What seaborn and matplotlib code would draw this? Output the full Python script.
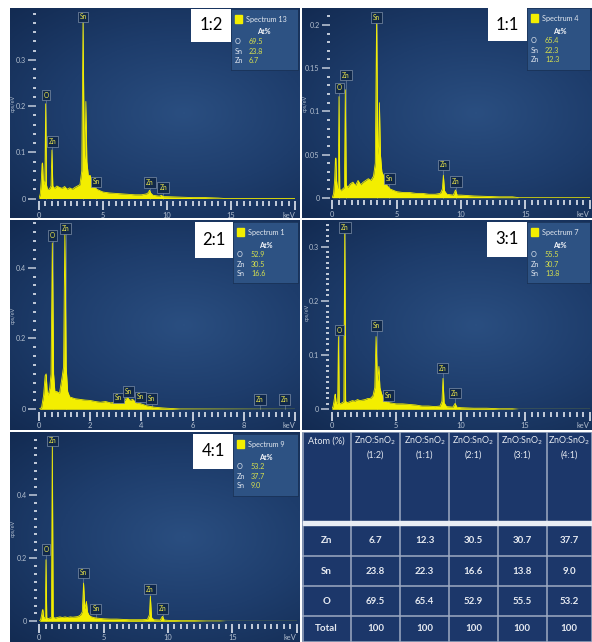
import numpy as np
import matplotlib
matplotlib.use("Agg")
import matplotlib.pyplot as plt
import seaborn as sns
import pandas as pd
from matplotlib.patches import Rectangle
from matplotlib.colors import LinearSegmentedColormap
from matplotlib.ticker import FixedLocator

# ------------------------------------------------------------------ data
# shared energy grid (keV) for spectra 1:2, 1:1, 3:1, 4:1
energy = [0, 0.1, 0.18, 0.24, 0.28, 0.33, 0.40, 0.46, 0.52, 0.58,
          0.66, 0.80, 0.94, 1.01, 1.08, 1.2, 1.4, 1.6, 1.8, 2.0,
          2.2, 2.4, 2.6, 2.8, 3.0, 3.2, 3.34, 3.44, 3.54, 3.60,
          3.66, 3.74, 3.85, 4.0, 4.2, 4.5, 5, 5.5, 6, 6.5,
          7, 7.5, 8, 8.4, 8.55, 8.63, 8.72, 8.9, 9.4, 9.57,
          9.7, 10, 11, 12, 13, 14, 14.5, 20]

cps_1_2 = [0, 0.01, 0.04, 0.075, 0.077, 0.04, 0.03, 0.04, 0.205, 0.03,
           0.02, 0.02, 0.027, 0.105, 0.027, 0.022, 0.027, 0.024, 0.022, 0.026,
           0.02, 0.023, 0.02, 0.024, 0.027, 0.03, 0.06, 0.386, 0.08, 0.10,
           0.21, 0.08, 0.05, 0.05, 0.03, 0.02, 0.014, 0.012, 0.011, 0.01,
           0.009, 0.008, 0.008, 0.01, 0.013, 0.018, 0.012, 0.007, 0.005, 0.007,
           0.004, 0.004, 0.003, 0.002, 0.002, 0.001, 0, 0]

cps_1_1 = [0, 0.005, 0.02, 0.045, 0.046, 0.02, 0.01, 0.015, 0.117, 0.01,
           0.008, 0.01, 0.012, 0.125, 0.015, 0.012, 0.016, 0.018, 0.014, 0.02,
           0.015, 0.018, 0.02, 0.022, 0.02, 0.025, 0.04, 0.206, 0.05, 0.06,
           0.11, 0.05, 0.03, 0.025, 0.015, 0.01, 0.007, 0.006, 0.006, 0.005,
           0.005, 0.004, 0.004, 0.005, 0.01, 0.026, 0.008, 0.004, 0.003, 0.009,
           0.003, 0.003, 0.002, 0.0015, 0.001, 0.001, 0, 0]

cps_3_1 = [0, 0.005, 0.015, 0.026, 0.028, 0.015, 0.01, 0.012, 0.134, 0.012,
           0.01, 0.012, 0.014, 0.334, 0.015, 0.012, 0.014, 0.016, 0.015, 0.018,
           0.016, 0.017, 0.018, 0.02, 0.02, 0.025, 0.04, 0.134, 0.05, 0.06,
           0.079, 0.04, 0.03, 0.02, 0.015, 0.012, 0.01, 0.01, 0.009, 0.008,
           0.006, 0.006, 0.005, 0.006, 0.015, 0.057, 0.012, 0.005, 0.004, 0.011,
           0.004, 0.003, 0.002, 0.002, 0.001, 0.001, 0, 0]

cps_4_1 = [0, 0.005, 0.02, 0.035, 0.037, 0.015, 0.01, 0.012, 0.195, 0.012,
           0.008, 0.01, 0.012, 0.564, 0.014, 0.01, 0.012, 0.014, 0.012, 0.014,
           0.012, 0.014, 0.013, 0.014, 0.015, 0.02, 0.03, 0.121, 0.04, 0.05,
           0.063, 0.03, 0.02, 0.015, 0.012, 0.01, 0.008, 0.007, 0.007, 0.006,
           0.005, 0.005, 0.005, 0.006, 0.02, 0.079, 0.012, 0.005, 0.004, 0.016,
           0.004, 0.003, 0.002, 0.002, 0.001, 0.001, 0, 0]

# spectrum 2:1 has its own grid (0-10 keV axis)
energy_2_1 = [0, 0.1, 0.18, 0.24, 0.28, 0.32, 0.36, 0.42, 0.47, 0.52,
              0.57, 0.62, 0.70, 0.80, 0.90, 0.96, 1.01, 1.06, 1.12, 1.2,
              1.4, 1.6, 1.8, 2.0, 2.2, 2.4, 2.6, 2.8, 3.0, 3.2,
              3.35, 3.44, 3.55, 3.66, 3.8, 4.0, 4.2, 4.5, 4.8, 5.0,
              5.5, 10]
cps_2_1 = [0, 0.005, 0.04, 0.095, 0.10, 0.05, 0.04, 0.06, 0.1, 0.47,
           0.1, 0.05, 0.05, 0.045, 0.09, 0.12, 0.506, 0.12, 0.05, 0.035,
           0.03, 0.028, 0.026, 0.025, 0.022, 0.02, 0.022, 0.018, 0.02, 0.02,
           0.025, 0.035, 0.025, 0.028, 0.018, 0.015, 0.01, 0.006, 0.004, 0.003,
           0.001, 0]

# peak labels: element, energy (keV), label height (cps/eV)
peaks_1_2 = [("O", 0.55, 0.224), ("Zn", 1.04, 0.123), ("Sn", 3.44, 0.393),
             ("Sn", 4.45, 0.036), ("Zn", 8.67, 0.034), ("Zn", 9.70, 0.024)]
peaks_1_1 = [("O", 0.54, 0.127), ("Zn", 1.06, 0.142), ("Sn", 3.45, 0.209),
             ("Sn", 4.43, 0.022), ("Zn", 8.63, 0.038), ("Zn", 9.61, 0.0185)]
peaks_2_1 = [("O", 0.53, 0.49), ("Zn", 1.04, 0.511), ("Sn", 3.09, 0.032),
             ("Sn", 3.48, 0.05), ("Sn", 3.95, 0.035), ("Sn", 4.40, 0.031),
             ("Zn", 8.63, 0.028), ("Zn", 9.60, 0.028)]
peaks_3_1 = [("Zn", 1.03, 0.335), ("O", 0.59, 0.146), ("Sn", 3.49, 0.154),
             ("Sn", 4.39, 0.026), ("Zn", 8.60, 0.076), ("Zn", 9.56, 0.030)]
peaks_4_1 = [("Zn", 1.01, 0.571), ("O", 0.52, 0.227), ("Sn", 3.42, 0.153),
             ("Sn", 4.40, 0.039), ("Zn", 8.60, 0.102), ("Zn", 9.59, 0.040)]

# legend boxes (spectrum name and At% quantification)
spectrum_names = ["Spectrum 13", "Spectrum 4", "Spectrum 1", "Spectrum 7", "Spectrum 9"]
legend_elements = [["O", "Sn", "Zn"], ["O", "Sn", "Zn"], ["O", "Zn", "Sn"],
                   ["O", "Zn", "Sn"], ["O", "Zn", "Sn"]]
legend_values = [["69.5", "23.8", "6.7"], ["65.4", "22.3", "12.3"], ["52.9", "30.5", "16.6"],
                 ["55.5", "30.7", "13.8"], ["53.2", "37.7", "9.0"]]
ratios = ["1:2", "1:1", "2:1", "3:1", "4:1"]

# summary table
table_ratios = ["1:2", "1:1", "2:1", "3:1", "4:1"]
table_rows = ["Zn", "Sn", "O", "Total"]
zn_at = ["6.7", "12.3", "30.5", "30.7", "37.7"]
sn_at = ["23.8", "22.3", "16.6", "13.8", "9.0"]
o_at = ["69.5", "65.4", "52.9", "55.5", "53.2"]
total_at = ["100", "100", "100", "100", "100"]

# ------------------------------------------------------------------ layout
W, H = 592, 642
FONT = ["Lato", "DejaVu Sans"]
plt.rcParams['font.family'] = FONT
fig = plt.figure(figsize=(W / 100, H / 100), dpi=100, facecolor="white")


def rect(x0, y0, x1, y1):
    return [x0 / W, 1 - y1 / H, (x1 - x0) / W, (y1 - y0) / H]


def ftext(x, y, s, **kw):
    fig.text(x / W, 1 - y / H, s, **kw)


YELLOW = "#f3ee00"
TICK = "#c3ccda"
TLAB = "#b3bfcf"

bg_cmap = LinearSegmentedColormap.from_list("bg", ["#2a4e80", "#1e3d6c", "#132b52"])
gy, gx = np.mgrid[0:1:120j, 0:1:120j]
grad = np.sqrt(((gx - 0.6) / 0.9) ** 2 + ((gy - 0.5) / 0.75) ** 2)

panels = [
    dict(box=(10, 8, 300, 218), data=(39, 10, 295, 198.5), x=energy, y=cps_1_2, xmax=20,
         ymax=0.408, ymaj=[0, 0.1, 0.2, 0.3], ylab=["0", "0.1", "0.2", "0.3"], ymin_step=0.02,
         xmaj=[0, 5, 10, 15, 20], xmin_step=0.5, peaks=peaks_1_2,
         white=(191, 9, 231, 42), leg=(231, 9, 298, 70), cps=(13, 103)),
    dict(box=(302, 8, 592, 218), data=(332.3, 8, 589.7, 197.7), x=energy, y=cps_1_1, xmax=20,
         ymax=0.2196, ymaj=[0, 0.05, 0.1, 0.15, 0.2], ylab=["0", "0.05", "0.1", "0.15", "0.2"],
         ymin_step=0.01, xmaj=[0, 5, 10, 15, 20], xmin_step=0.5, peaks=peaks_1_1,
         white=(488, 8, 527, 41), leg=(527, 8, 590, 70), cps=(305.5, 103)),
    dict(box=(10, 220, 300, 430), data=(39, 222, 295, 409.3), x=energy_2_1, y=cps_2_1, xmax=10,
         ymax=0.529, ymaj=[0, 0.2, 0.4], ylab=["0", "0.2", "0.4"], ymin_step=0.025,
         xmaj=[0, 2, 4, 6, 8, 10], xmin_step=0.25, peaks=peaks_2_1,
         white=(195, 222, 233, 258), leg=(233, 222, 298, 283), cps=(13, 315)),
    dict(box=(302, 220, 592, 430), data=(331.7, 221, 589.6, 409.3), x=energy, y=cps_3_1, xmax=20,
         ymax=0.347, ymaj=[0, 0.1, 0.2, 0.3], ylab=["0", "0.1", "0.2", "0.3"], ymin_step=0.01,
         xmaj=[0, 5, 10, 15, 20], xmin_step=0.5, peaks=peaks_3_1,
         white=(487, 222, 527, 257), leg=(527, 222, 590, 283), cps=(307, 312)),
    dict(box=(10, 432, 300, 642), data=(39.3, 434, 296.7, 621.3), x=energy, y=cps_4_1, xmax=20,
         ymax=0.593, ymaj=[0, 0.2, 0.4], ylab=["0", "0.2", "0.4"], ymin_step=0.025,
         xmaj=[0, 5, 10, 15, 20], xmin_step=0.5, peaks=peaks_4_1,
         white=(193, 434, 233, 469), leg=(233, 434, 298, 496), cps=(13, 528)),
]

for i, p in enumerate(panels):
    # gradient background
    bax = fig.add_axes(rect(*p["box"]))
    bax.imshow(grad, cmap=bg_cmap, extent=[0, 1, 0, 1], aspect="auto", origin="lower")
    bax.set_axis_off()

    ax = fig.add_axes(rect(*p["data"]))
    ax.set_facecolor("none")
    df = pd.DataFrame({"keV": p["x"], "cps": p["y"]})
    # peak marker stems
    for el, ex, ey in p["peaks"]:
        ax.plot([ex, ex], [0, ey], color="#7f90a8", lw=0.4, zorder=1, clip_on=False)
    ax.fill_between(df["keV"], df["cps"], color=YELLOW, lw=0, zorder=2)
    sns.lineplot(data=df, x="keV", y="cps", ax=ax, color=YELLOW, lw=0.6,
                 estimator=None, sort=False, legend=False, zorder=3)
    ax.set_xlabel("")
    ax.set_ylabel("")
    ax.set_xlim(0, p["xmax"])
    ax.set_ylim(0, p["ymax"])
    for s in ax.spines.values():
        s.set_visible(False)
    ax.spines["bottom"].set_position(("outward", 2))
    ax.spines["left"].set_position(("outward", 2))

    ax.set_xticks(p["xmaj"])
    xl = [str(v) for v in p["xmaj"]]
    xl[-1] = "keV"
    ax.set_xticklabels(xl)
    ax.get_xticklabels()[-1].set_ha("right")
    ax.xaxis.set_minor_locator(FixedLocator(np.arange(0, p["xmax"] + 1e-6, p["xmin_step"])))
    ax.set_yticks(p["ymaj"])
    ax.set_yticklabels(p["ylab"])
    ax.yaxis.set_minor_locator(FixedLocator(np.arange(0, p["ymax"], p["ymin_step"])))
    ax.tick_params(axis="x", which="major", direction="out", length=6.5, width=1.4,
                   color=TICK, labelsize=5.4, labelcolor=TLAB, pad=1)
    ax.tick_params(axis="x", which="minor", direction="out", length=3.5, width=1.4, color=TICK)
    ax.tick_params(axis="y", which="major", direction="out", length=6, width=1.1,
                   color=TICK, labelsize=5.2, labelcolor=TLAB, pad=1.2)
    ax.tick_params(axis="y", which="minor", direction="out", length=2.5, width=1.4, color=TICK)

    # peak label boxes
    for el, ex, ey in p["peaks"]:
        ax.text(ex, ey, el, fontsize=4.8, color="#e8e34a", ha="center", va="center",
                zorder=5, clip_on=False,
                bbox=dict(boxstyle="square,pad=0.28", fc="#10284a", ec="#7d8fa8", lw=0.5))

    # cps/eV label
    cx, cy = p["cps"]
    ftext(cx, cy, "cps/eV", fontsize=4.0, color=TLAB, rotation=90, ha="center", va="center")

    # ratio white box
    wx0, wy0, wx1, wy1 = p["white"]
    wax = fig.add_axes(rect(wx0, wy0, wx1, wy1))
    wax.set_facecolor("white")
    wax.set_xticks([]); wax.set_yticks([])
    for s in wax.spines.values():
        s.set_visible(False)
    wax.text(0.5, 0.5, ratios[i], fontsize=12, color="black", ha="center", va="center",
             transform=wax.transAxes)

    # legend box
    lx0, ly0, lx1, ly1 = p["leg"]
    lax = fig.add_axes(rect(lx0, ly0, lx1, ly1))
    lax.set_facecolor("#2d5283")
    lax.set_xticks([]); lax.set_yticks([])
    for s in lax.spines.values():
        s.set_color("#1a3358")
        s.set_linewidth(0.6)
    lax.set_xlim(lx0, lx1)
    lax.set_ylim(ly1, ly0)
    lax.add_patch(Rectangle((lx0 + 4, ly0 + 6), 6.5, 8.3, color=YELLOW))
    lax.text(lx0 + 14.5, ly0 + 10.5, spectrum_names[i], fontsize=5.2, color="#e4e9f0",
             ha="left", va="center")
    lax.text(lx0 + 26.5, ly0 + 23, "At%", fontsize=5.2, color="#f2f4f8", weight="bold",
             ha="left", va="center")
    for k, (el, val) in enumerate(zip(legend_elements[i], legend_values[i])):
        yy = ly0 + 32.7 + 9.6 * k
        lax.text(lx0 + 4, yy, el, fontsize=5.2, color="#dfe5ee", ha="left", va="center")
        lax.text(lx0 + 18, yy, val, fontsize=5.2, color="#d6e04e", ha="left", va="center")

# ------------------------------------------------------------------ table
tx0, ty0, tx1, ty1 = 302, 432, 592, 642
tax = fig.add_axes(rect(tx0, ty0, tx1, ty1))
tax.set_xlim(tx0, tx1)
tax.set_ylim(ty1, ty0)
tax.set_axis_off()
tax.add_patch(Rectangle((tx0, ty0), tx1 - tx0, ty1 - ty0, color="#1c376a", zorder=0))

col_edges = [302.7, 350.7, 400, 449, 497.7, 546.7, 591.5]
row_edges = [431.8, 520.7, 524.7, 556.3, 586.3, 616.3, 641.5]
GRID = "#9eabc2"
for xe in col_edges:
    tax.plot([xe, xe], [row_edges[0], row_edges[-1]], color=GRID, lw=1.1, zorder=2)
for ye in [row_edges[0], row_edges[3], row_edges[4], row_edges[5], row_edges[6]]:
    tax.plot([col_edges[0], col_edges[-1]], [ye, ye], color=GRID, lw=1.1, zorder=2)
tax.add_patch(Rectangle((col_edges[0], row_edges[1]), col_edges[-1] - col_edges[0],
                        row_edges[2] - row_edges[1], color="#e9edf3", zorder=3))

centers = [(col_edges[j] + col_edges[j + 1]) / 2 for j in range(6)]
TXT = "#e6eaf1"
tax.text(centers[0], 441, "Atom (%)", fontsize=6.6, color=TXT, ha="center", va="center")
for j, r in enumerate(table_ratios):
    tax.text(centers[j + 1], 441, "ZnO:SnO$_2$", fontsize=6.4, color=TXT, ha="center", va="center")
    tax.text(centers[j + 1], 455, "(" + r + ")", fontsize=6.4, color=TXT, ha="center", va="center")

body = [zn_at, sn_at, o_at, total_at]
row_centers = [(row_edges[k] + row_edges[k + 1]) / 2 for k in range(2, 6)]
for k, (name, vals) in enumerate(zip(table_rows, body)):
    yc = row_centers[k]
    tax.text(centers[0], yc, name, fontsize=7, color=TXT, weight="bold", ha="center", va="center")
    for j, v in enumerate(vals):
        tax.text(centers[j + 1], yc, v, fontsize=7, color=TXT, weight="bold",
                 ha="center", va="center")

fig.savefig("out.png", dpi=100, facecolor="white")
